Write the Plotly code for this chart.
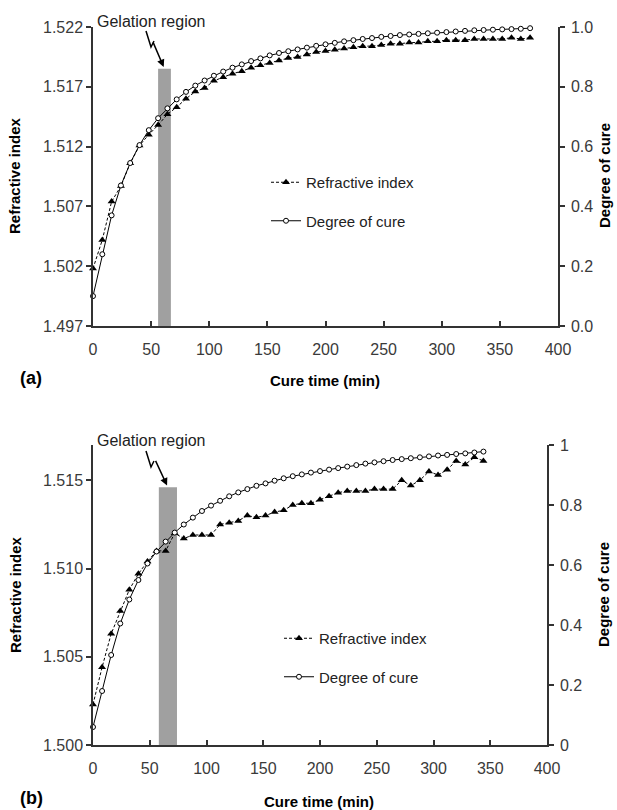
import plotly.graph_objects as go

# ---------------- data ----------------
time_a = [8 * i for i in range(48)]  # 0..376 min
ri_a = [1.5018, 1.5042, 1.5074, 1.5087, 1.5106, 1.5121, 1.5130, 1.5138, 1.5147, 1.5153,
        1.5160, 1.5166, 1.5169, 1.5175, 1.5178, 1.5181, 1.5183, 1.5186, 1.5188, 1.5190,
        1.5192, 1.5194, 1.5195, 1.5197, 1.5199, 1.5200, 1.5201, 1.5202, 1.5203, 1.5204,
        1.5204, 1.5205, 1.5206, 1.5206, 1.5207, 1.5207, 1.5208, 1.5208, 1.5209, 1.5209,
        1.5209, 1.5210, 1.5210, 1.5210, 1.5210, 1.5211, 1.5210, 1.5211]
doc_a = [0.10, 0.24, 0.37, 0.47, 0.545, 0.605, 0.655, 0.695, 0.728, 0.758,
         0.783, 0.804, 0.821, 0.837, 0.851, 0.864, 0.875, 0.886, 0.895, 0.905,
         0.913, 0.919, 0.925, 0.931, 0.937, 0.942, 0.947, 0.952, 0.956, 0.960,
         0.963, 0.967, 0.970, 0.973, 0.975, 0.977, 0.979, 0.981, 0.983, 0.985,
         0.987, 0.989, 0.990, 0.991, 0.992, 0.993, 0.994, 0.996]

time_b = [8 * i for i in range(44)]  # 0..344 min
ri_b = [1.5023, 1.5044, 1.5063, 1.5076, 1.5088, 1.5097, 1.5104, 1.5110, 1.5110, 1.5120,
        1.5117, 1.5119, 1.5119, 1.5119, 1.5125, 1.5126, 1.5127, 1.5130, 1.5129, 1.5130,
        1.5132, 1.5133, 1.5136, 1.5137, 1.5137, 1.5139, 1.5141, 1.5143, 1.5144, 1.5144,
        1.5144, 1.5145, 1.5145, 1.5145, 1.5150, 1.5147, 1.5150, 1.5155, 1.5153, 1.5156,
        1.5161, 1.5159, 1.5163, 1.5161]
doc_b = [0.06, 0.18, 0.30, 0.405, 0.485, 0.55, 0.605, 0.645, 0.678, 0.708,
         0.735, 0.758, 0.78, 0.798, 0.814, 0.829, 0.842, 0.853, 0.864, 0.872,
         0.881, 0.889, 0.896, 0.902, 0.908, 0.913, 0.918, 0.923, 0.928, 0.933,
         0.938, 0.942, 0.946, 0.950, 0.953, 0.956, 0.959, 0.962, 0.965, 0.967,
         0.970, 0.972, 0.975, 0.978]

gel_a = [56, 67, 1.5185]   # start, end (min), top (RI)
gel_b = [58, 74, 1.5146]

ri_ticks_a = [1.497, 1.502, 1.507, 1.512, 1.517, 1.522]
ri_ticks_b = [1.500, 1.505, 1.510, 1.515]
doc_ticks_a = [0.0, 0.2, 0.4, 0.6, 0.8, 1.0]
doc_ticks_b = [0, 0.2, 0.4, 0.6, 0.8, 1]
x_ticks = [0, 50, 100, 150, 200, 250, 300, 350, 400]

# ---------------- style ----------------
W, H = 617, 810
def px(x):
    return x / W
def py(y):
    return 1 - y / H

FONT = "Liberation Sans, Arial, sans-serif"
AX = "#333333"
TICKC = "#3a3a3a"
GEL = "#a0a0a0"

fig = go.Figure()

def add_pair(tx, ri, doc, xa, ya_ri, ya_doc, leg):
    fig.add_trace(go.Scatter(
        x=tx, y=ri, mode="lines+markers", name="Refractive index",
        xaxis=xa, yaxis=ya_ri, legend=leg, legendgroup=leg + "ri",
        line=dict(color="black", width=1, dash="3px,2px"),
        marker=dict(symbol="triangle-up", size=7, color="black"),
        cliponaxis=False))
    fig.add_trace(go.Scatter(
        x=tx, y=doc, mode="lines+markers", name="Degree of cure",
        xaxis=xa, yaxis=ya_doc, legend=leg, legendgroup=leg + "doc",
        line=dict(color="black", width=1),
        marker=dict(symbol="circle", size=5, color="white",
                    line=dict(color="black", width=1)),
        cliponaxis=False))

add_pair(time_a, ri_a, doc_a, "x", "y", "y2", "legend")
add_pair(time_b, ri_b, doc_b, "x2", "y4", "y5", "legend2")

tickfont = dict(family=FONT, size=16, color=TICKC)

def xaxis(domain, anchor):
    return dict(domain=domain, anchor=anchor, range=[0, 400], tickvals=x_ticks,
                ticks="inside", ticklen=5, tickwidth=1.5, tickcolor=AX,
                showline=True, linecolor=AX, linewidth=1.5, showgrid=False,
                zeroline=False, tickfont=tickfont, automargin=False,
                ticklabelstandoff=8)

def yleft(domain, anchor, rng, tv, fmt):
    return dict(domain=domain, anchor=anchor, range=rng, tickvals=tv,
                tickformat=fmt, ticks="outside", ticklen=5, tickwidth=1.5,
                tickcolor=AX, showline=True, linecolor=AX, linewidth=1.5,
                showgrid=False, zeroline=False, tickfont=tickfont,
                automargin=False)

def yright(over, anchor, tv, fmt):
    return dict(overlaying=over, anchor=anchor, side="right", range=[0, 1],
                tickvals=tv, tickformat=fmt, ticks="outside", ticklen=5,
                tickwidth=1.5, tickcolor=AX, showline=True, linecolor=AX,
                linewidth=1.5, showgrid=False, zeroline=False, tickfont=tickfont,
                automargin=False, ticklabelstandoff=3)

def yright_in(over, anchor, tv):
    return dict(overlaying=over, anchor=anchor, side="right", range=[0, 1],
                tickvals=tv, ticks="inside", ticklen=5, tickwidth=1.5,
                tickcolor=AX, showline=False, showticklabels=False,
                showgrid=False, zeroline=False, automargin=False)

dom_xa = [px(93), px(558)]
dom_ya = [py(326), py(27)]
dom_xb = [px(93), px(547)]
dom_yb = [py(745), py(445)]

legend_common = dict(xanchor="left", yanchor="top", bgcolor="rgba(0,0,0,0)",
                     font=dict(family=FONT, size=15, color="#222222"),
                     traceorder="grouped", tracegroupgap=16)

fig.update_layout(
    width=W, height=H, margin=dict(l=0, r=0, t=0, b=0, autoexpand=False),
    paper_bgcolor="white", plot_bgcolor="white",
    font=dict(family=FONT, color="#222222"),
    xaxis=xaxis(dom_xa, "y"),
    yaxis=yleft(dom_ya, "x", [1.497, 1.522], ri_ticks_a, ".3f"),
    yaxis2=yright("y", "x", doc_ticks_a, ".1f"),
    yaxis3=yright_in("y", "x", doc_ticks_a),
    xaxis2=xaxis(dom_xb, "y4"),
    yaxis4=yleft(dom_yb, "x2", [1.500, 1.517], ri_ticks_b, ".3f"),
    yaxis5=yright("y4", "x2", doc_ticks_b, ""),
    yaxis6=yright_in("y4", "x2", doc_ticks_b),
    legend=dict(x=px(266), y=py(166), **legend_common),
    legend2=dict(x=px(279), y=py(622), **legend_common),
    showlegend=True,
)

# gelation bars
fig.add_shape(type="rect", xref="x", yref="y", x0=gel_a[0], x1=gel_a[1],
              y0=1.497, y1=gel_a[2], fillcolor=GEL, line=dict(width=0), layer="below")
fig.add_shape(type="rect", xref="x2", yref="y4", x0=gel_b[0], x1=gel_b[1],
              y0=1.500, y1=gel_b[2], fillcolor=GEL, line=dict(width=0), layer="below")

def zigzag(pts):
    path = "M " + " L ".join(f"{px(x)},{py(y)}" for x, y in pts)
    fig.add_shape(type="path", xref="paper", yref="paper", path=path,
                  line=dict(color="black", width=1.5))

zigzag([(146, 31), (151, 47), (154, 41)])
zigzag([(146, 451), (151, 467), (154, 461)])

ann = []
# arrows to gel bars
ann.append(dict(x=(gel_a[0] + gel_a[1]) / 2, y=gel_a[2], xref="x", yref="y",
                ax=-12, ay=-28, text="", showarrow=True, arrowhead=2,
                arrowsize=1, arrowwidth=1.5, arrowcolor="black", standoff=2))
ann.append(dict(x=(gel_b[0] + gel_b[1]) / 2, y=gel_b[2], xref="x2", yref="y4",
                ax=-13, ay=-28, text="", showarrow=True, arrowhead=2,
                arrowsize=1, arrowwidth=1.5, arrowcolor="black", standoff=2))

def txt(x, y, s, size=16, bold=False, angle=0, color="#222222"):
    ann.append(dict(x=px(x), y=py(y), xref="paper", yref="paper", text=s,
                    showarrow=False, textangle=angle, xanchor="center",
                    yanchor="middle",
                    font=dict(family=FONT, size=size, color=color,
                              weight="bold" if bold else "normal")))

txt(151, 22, "Gelation region")
txt(151, 441, "Gelation region")
txt(15, 176, "Refractive index", size=15, bold=True, angle=-90, color="black")
txt(605, 176, "Degree of cure", size=15, bold=True, angle=-90, color="black")
txt(325, 381, "Cure time (min)", size=15, bold=True, color="black")
txt(31, 378, "(a)", size=18, bold=True, color="black")
txt(15, 595, "Refractive index", size=15, bold=True, angle=-90, color="black")
txt(603, 595, "Degree of cure", size=15, bold=True, angle=-90, color="black")
txt(319, 801, "Cure time (min)", size=15, bold=True, color="black")
txt(31, 798, "(b)", size=18, bold=True, color="black")

fig.update_layout(annotations=ann)

fig.write_html("out.html")
